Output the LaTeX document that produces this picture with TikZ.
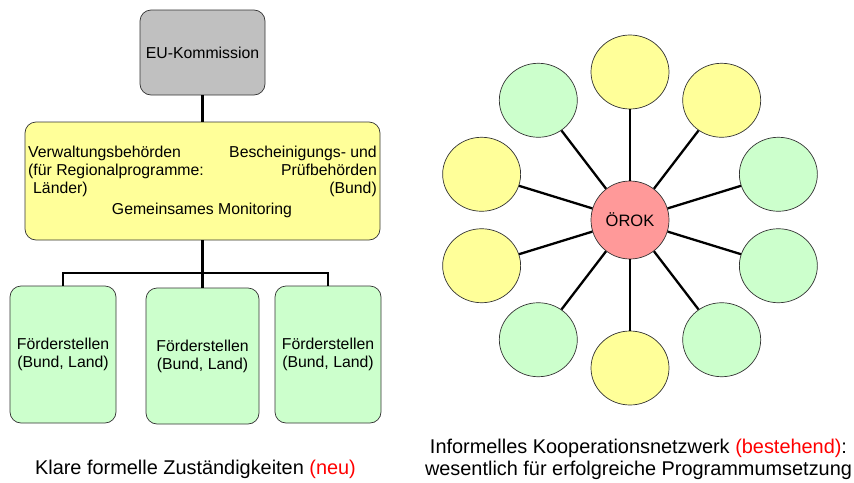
\documentclass[tikz,border=0pt]{standalone}
\usepackage{fontspec}
\setmainfont{Liberation Sans}
\usetikzlibrary{shapes.geometric}

\definecolor{kgray}{HTML}{C0C0C0}
\definecolor{kyel}{HTML}{FFFF99}
\definecolor{kgreen}{HTML}{CCFFCC}
\definecolor{kred}{HTML}{FF9999}
\definecolor{kline}{HTML}{333333}

\newcommand{\boxfont}{\fontsize{15.8}{18}\selectfont}
\newcommand{\capfont}{\fontsize{19.9}{22}\selectfont}

\begin{document}
\begin{tikzpicture}[x=1pt, y=-1pt,
        mbox/.style = {draw = kline, line width = 0.7pt, rounded corners = 11pt, inner sep = 0pt, align = center, font = \boxfont},
        mtext/.style = {inner sep = 0pt, font = \boxfont},
        mcap/.style = {inner sep = 0pt, font = \capfont},
        tline/.style = {line width = 2.4pt},
        msat/.style = {ellipse, draw = kline, line width = 0.7pt, minimum width = 78pt, minimum height = 74pt},
        mspoke/.style = {line width = 2.3pt}
        ]
        \useasboundingbox (0,0) rectangle (854,482);

        % formal structure (left)
        \node[mbox, fill = kgray, minimum width = 125pt, minimum height = 85pt] (EU) at (202.5,52.5) {EU-Kommission};
        \node[mbox, fill = kyel, minimum width = 355pt, minimum height = 118pt] (VB) at (202.5,181) {};

        \node[mtext, anchor = north west, align = left] (VBl) at (28,146) {Verwaltungsbehörden\\(für Regionalprogramme:\\\hspace{5pt}Länder)};
        \node[mtext, anchor = north east, align = right] (VBr) at (377,146) {Bescheinigungs- und\\Prüfbehörden\\(Bund)};
        \node[mtext] (VBm) at (202,210) {Gemeinsames Monitoring};

        \node[mbox, fill = kgreen, minimum width = 106pt, minimum height = 137pt] (F1) at (63,354.5) {Förderstellen\\(Bund, Land)};
        \node[mbox, fill = kgreen, minimum width = 113pt, minimum height = 136pt] (F2) at (202.5,356) {Förderstellen\\(Bund, Land)};
        \node[mbox, fill = kgreen, minimum width = 106pt, minimum height = 137pt] (F3) at (328,354.5) {Förderstellen\\(Bund, Land)};

        \coordinate (split) at (202.5,273);

        \draw[tline] (EU) -- (VB);
        \draw[tline] (VB) -- (F2);
        \draw[tline] (F1.north) |- (split) -| (F3.north);

        % network (right)
        \node[circle, draw = kline, line width = 0.7pt, fill = kred, minimum size = 78pt, inner sep = 0pt, font = \fontsize{16.5}{20}\selectfont] (orok) at (630,220) {ÖROK};

        \foreach \a/\c [count=\i] in {90/kyel, 54/kyel, 18/kgreen, -18/kgreen, -54/kgreen, -90/kyel, -126/kgreen, -162/kyel, 162/kyel, 126/kgreen}
        {
            \node[msat, fill = \c] (s\i) at ([shift={(-\a:156 and 148)}]orok.center) {};
            \draw[mspoke] (orok) -- (s\i);
        }

        % captions
        \node[mcap] (capl) at (195.5,469.5) {Klare formelle Zuständigkeiten \textcolor{red}{(neu)}};
        \node[mcap, align = center] (capr) at (638.5,459) {Informelles Kooperationsnetzwerk \textcolor{red}{(bestehend)}:\\wesentlich für erfolgreiche Programmumsetzung};

    \end{tikzpicture}
\end{document}
